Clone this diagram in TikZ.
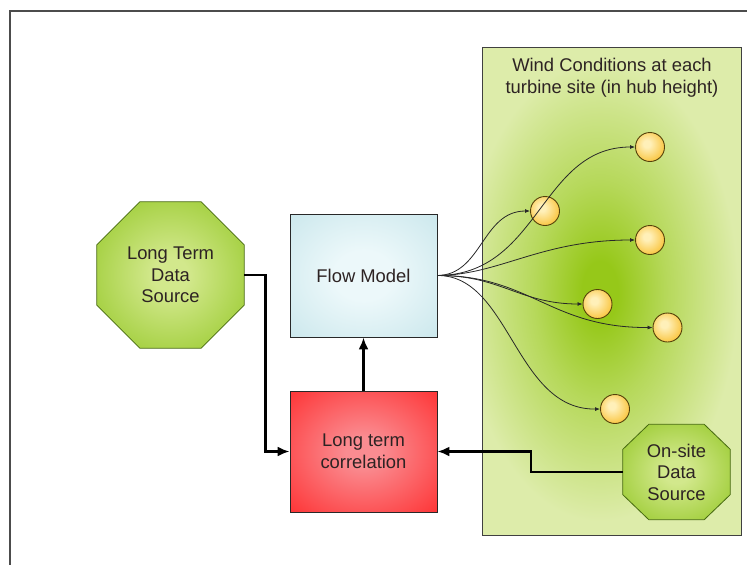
\documentclass[tikz,border=0pt]{standalone}
\usepackage{fontspec}
\setmainfont{Liberation Sans}
\usetikzlibrary{arrows.meta}

% palette
\definecolor{panelpale}{RGB}{221,236,170}
\definecolor{panelcore}{RGB}{150,200,25}
\colorlet{panelmid}{panelcore!55!panelpale}
\definecolor{octedge}{RGB}{140,195,25}
\definecolor{octcore}{RGB}{210,232,140}
\definecolor{octline}{RGB}{70,105,15}
\definecolor{fmedge}{RGB}{188,224,230}
\definecolor{fmcore}{RGB}{236,248,250}
\definecolor{ltedge}{RGB}{255,22,22}
\definecolor{ltcore}{RGB}{250,140,145}
\definecolor{dotedge}{RGB}{248,186,32}
\definecolor{dotcore}{RGB}{255,240,185}
\definecolor{dotline}{RGB}{85,65,10}
\definecolor{inktext}{RGB}{45,35,35}
\definecolor{wire}{RGB}{40,40,40}

% soft radial glows
\pgfdeclareradialshading{panelglow}{\pgfpoint{0bp}{0bp}}{color(0bp)=(panelcore); color(3bp)=(panelcore); color(11bp)=(panelmid); color(23bp)=(panelpale); color(75bp)=(panelpale)}
\pgfdeclareradialshading{octglow}{\pgfpoint{0bp}{0bp}}{color(0bp)=(octcore); color(6bp)=(octcore); color(40bp)=(octedge); color(75bp)=(octedge)}
\pgfdeclareradialshading{fmglow}{\pgfpoint{0bp}{0bp}}{color(0bp)=(fmcore); color(10bp)=(fmcore); color(48bp)=(fmedge); color(75bp)=(fmedge)}
\pgfdeclareradialshading{ltglow}{\pgfpoint{0bp}{0bp}}{color(0bp)=(ltcore); color(6bp)=(ltcore); color(46bp)=(ltedge); color(75bp)=(ltedge)}
\pgfdeclareradialshading{dotglow}{\pgfpoint{-6bp}{6bp}}{color(0bp)=(dotcore); color(6bp)=(dotcore); color(36bp)=(dotedge); color(75bp)=(dotedge)}

\pgfdeclarelayer{panel}
\pgfdeclarelayer{plates}
\pgfsetlayers{panel,plates,main}

\tikzset{
  label text/.style={font=\fontsize{18.4}{21.5}\selectfont, text=inktext, align=center},
  source/.style={rectangle, inner sep=0pt, label text},
  octfill/.style={draw=octline, line width=0.8pt, shade, shading=octglow},
  stage/.style={rectangle, draw=wire, line width=0.9pt, shade, inner sep=0pt,
                minimum width=147pt, label text},
  turbine/.style={circle, draw=dotline, line width=0.9pt, shade, shading=dotglow,
                  minimum size=29pt, inner sep=0pt},
  frameline/.style={draw=black!70, line width=1.5pt},
  feed/.style={draw=black, line width=2.6pt, -{Latex[length=12pt,width=10pt]}},
  spread/.style={draw=wire, line width=0.8pt, -{Latex[length=5pt,width=4pt]}},
}

% octagonal plate behind a source node: #1 node, #2 horizontal cut, #3 vertical cut
\newcommand\octplate[3]{%
  \path[octfill]
    ([xshift=#2]#1.north west) -- ([xshift=-#2]#1.north east)
    -- ([yshift=-#3]#1.north east) -- ([yshift=#3]#1.south east)
    -- ([xshift=-#2]#1.south east) -- ([xshift=#2]#1.south west)
    -- ([yshift=#3]#1.south west) -- ([yshift=-#3]#1.north west) -- cycle;}

\begin{document}
\begin{tikzpicture}[x=1pt, y=-1pt]
\useasboundingbox (0,0) rectangle (747,565);

% page frame (open to the right and bottom)
\draw[frameline] (747,11) -- (10,11) -- (10,565);

% wind field panel
\node[rectangle, minimum width=258pt, minimum height=487pt, inner sep=0pt]
  (wind) at (612,291.5) {};
\begin{pgfonlayer}{panel}
  \fill[panelpale] (wind.south west) rectangle (wind.north east);
  \begin{scope}
    \clip (wind.south west) rectangle (wind.north east);
    % glow larger than the panel, so its own border stays outside the clip
    \shade[shading=panelglow] ([shift={(-162,-250)}]wind.center) rectangle ++(300,500);
  \end{scope}
  \draw[draw=black!75, line width=1pt] (wind.south west) rectangle (wind.north east);
\end{pgfonlayer}
\node[label text, anchor=north] (windtitle) at ([yshift=-7pt]wind.north)
  {Wind Conditions at each\\turbine site (in hub height)};

% data sources and processing stages
\node[source, minimum width=147pt, minimum height=146pt] (lts) at (170.5,275) {Long Term\\Data\\Source};
\node[stage, shading=fmglow, minimum height=123pt] (fm) at (363.5,275.5) {Flow Model};
\node[stage, shading=ltglow, minimum height=121pt] (ltc) at (363.5,451.5) {Long term\\correlation};
\node[source, minimum width=107pt, minimum height=95pt] (ons) at (676.5,472) {On-site\\Data\\Source};
\begin{pgfonlayer}{plates}
  \octplate{lts}{43pt}{43pt}
  \octplate{ons}{26pt}{25pt}
\end{pgfonlayer}

% turbine sites
\node[turbine] (t1) at (650,147) {};
\node[turbine] (t2) at (545,211) {};
\node[turbine] (t3) at (650,240) {};
\node[turbine] (t4) at (597.5,304) {};
\node[turbine] (t5) at (667.5,327.5) {};
\node[turbine] (t6) at (615,409) {};

% flow model output spread to each site
\draw[spread] (fm.east) .. controls (482,275) and (482,211) .. (t2.west);
\draw[spread] (fm.east) .. controls (540,275) and (540,147) .. (t1.west);
\draw[spread] (fm.east) .. controls (500,275) and (540,240) .. (t3.west);
\draw[spread] (fm.east) .. controls (500,275) and (520,304) .. (t4.west);
\draw[spread] (fm.east) .. controls (530,275) and (550,328) .. (t5.west);
\draw[spread] (fm.east) .. controls (510,275) and (515,410) .. (t6.west);

% data feeds
\draw[feed] (ltc.north) -- (fm.south);
\draw[feed] (lts.east) -- ++(21,0) |- (ltc.west);
\draw[feed] (ons.west) -- ++(-92,0) |- (ltc.east);
\end{tikzpicture}
\end{document}
